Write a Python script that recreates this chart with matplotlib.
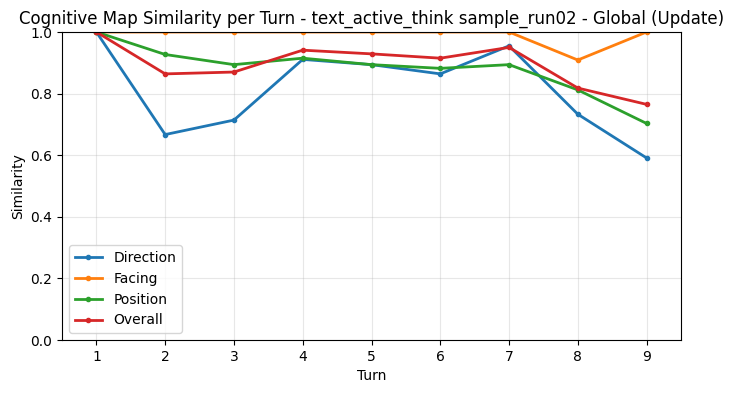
import matplotlib
matplotlib.use("Agg")
import matplotlib.pyplot as plt

turns = [1, 2, 3, 4, 5, 6, 7, 8, 9]
direction = [1.0, 0.667, 0.714, 0.911, 0.894, 0.864, 0.955, 0.733, 0.591]
facing = [1.0, 1.0, 1.0, 1.0, 1.0, 1.0, 1.0, 0.909, 1.0]
position = [1.0, 0.927, 0.894, 0.915, 0.894, 0.882, 0.894, 0.812, 0.703]
overall = [1.0, 0.864, 0.870, 0.941, 0.929, 0.915, 0.950, 0.818, 0.765]

series = [("Direction", direction, "#1f77b4"),
          ("Facing", facing, "#ff7f0e"),
          ("Position", position, "#2ca02c"),
          ("Overall", overall, "#d62728")]

fig = plt.figure(figsize=(7.33, 3.93), dpi=100)
ax = fig.add_axes([62/733, 1 - 340/393, (681-62)/733, (340-32)/393])
for name, vals, c in series:
    ax.plot(turns, vals, marker="o", markersize=3, linewidth=2, color=c, label=name)
ax.set_ylim(0, 1.0)
ax.set_xlim(0.5, 9.5)
ax.set_xticks(turns)
ax.grid(True, alpha=0.3)
ax.set_xlabel("Turn")
ax.set_ylabel("Similarity")
ax.set_title("Cognitive Map Similarity per Turn - text_active_think sample_run02 - Global (Update)")
ax.legend(loc="lower left")
fig.savefig("out.png", dpi=100)
